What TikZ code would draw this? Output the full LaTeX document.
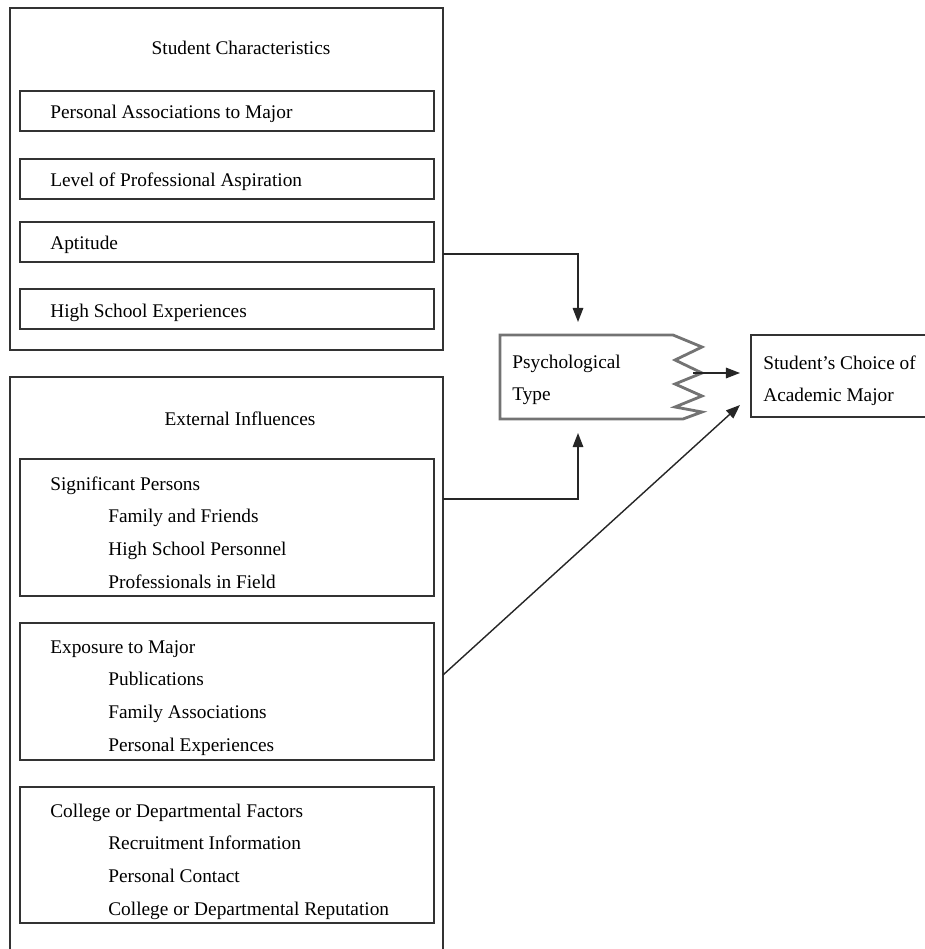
\documentclass[tikz,border=0pt]{standalone}
\usepackage{fontspec}
\setmainfont{Liberation Serif}
\usetikzlibrary{arrows.meta,fit}

\begin{document}
\begin{tikzpicture}[x=0.02cm, y=-0.02cm,
    frame/.style={draw=black!80, line width=0.8pt, inner sep=0pt},
    label/.style={anchor=base west, inner sep=0pt, font=\fontsize{11}{13}\selectfont},
    title/.style={anchor=base, inner sep=0pt, font=\fontsize{11}{13}\selectfont},
    conn/.style={draw=black!85, line width=0.8pt, -{Triangle[length=8pt,width=6pt]}}]
    \useasboundingbox (0,0) rectangle (925,949);
    \clip (0,0) rectangle (925,949);

    % Student characteristics
    \node[frame, fit={(10,8) (443,350)}] (stud) {};
    \node[title] (studtitle) at (241,55) {Student Characteristics};
    \foreach \name/\top/\txt in {assoc/91/Personal Associations to Major, aspir/159/Level of Professional Aspiration, apt/222/Aptitude, hsexp/289/High School Experiences}{
        \node[frame, fit={(20,\top) (434,\top+40)}] (\name) {};
        \node[label] (\name-txt) at (50,\top+28) {\txt};
    }

    % External influences
    \node[frame, fit={(10,377) (443,960)}] (ext) {};
    \node[title] (exttitle) at (240,425) {External Influences};
    \node[frame, fit={(20,459) (434,596)}] (sig) {};
    \node[frame, fit={(20,623) (434,760)}] (expo) {};
    \node[frame, fit={(20,787) (434,923)}] (coll) {};

    \node[label] (sig-0) at (50,490) {Significant Persons};
    \foreach \i/\txt in {1/Family and Friends, 2/High School Personnel, 3/Professionals in Field}
        \node[label] (sig-\i) at (108,490+32.7*\i) {\txt};
    \node[label] (expo-0) at (50,653) {Exposure to Major};
    \foreach \i/\txt in {1/Publications, 2/Family Associations, 3/Personal Experiences}
        \node[label] (expo-\i) at (108,653+32.7*\i) {\txt};
    \node[label] (coll-0) at (50,817) {College or Departmental Factors};
    \foreach \i/\txt in {1/Recruitment Information, 2/Personal Contact, 3/College or Departmental Reputation}
        \node[label] (coll-\i) at (108,817+32.7*\i) {\txt};

    % Psychological type, zigzag on the right
    \node[inner sep=0pt, fit={(500,335) (702,419)}] (psych) {};
    \draw[draw=black!55, line width=1.6pt, line join=miter]
        (500,335) -- (673,335) -- (702,347) -- (675,360) -- (702,373) -- (675,384)
        -- (702,396) -- (675,407) -- (702,412) -- (683,419) -- (500,419) -- cycle;
    \node[label] (psych-1) at (512,368) {Psychological};
    \node[label] (psych-2) at (512,400) {Type};

    % Outcome
    \node[frame, fit={(751,335) (935,417)}] (choice) {};
    \node[label] (choice-1) at (763,369) {Student’s Choice of};
    \node[label] (choice-2) at (763,401) {Academic Major};

    % connectors
    \coordinate (aptout) at (443,254);
    \coordinate (sigout) at (443,499);
    \coordinate (expoout) at (443,675);
    \coordinate (psychin1) at (578,322);
    \coordinate (psychin2) at (578,433);
    \coordinate (psychout) at (693,373);
    \coordinate (choicein1) at (740,373);
    \coordinate (choicein2) at (740,405);
    \draw[conn] (aptout) -| (psychin1);
    \draw[conn] (sigout) -| (psychin2);
    \draw[conn] (psychout) -- (choicein1);
    \draw[conn] (expoout) -- (choicein2);
\end{tikzpicture}
\end{document}
